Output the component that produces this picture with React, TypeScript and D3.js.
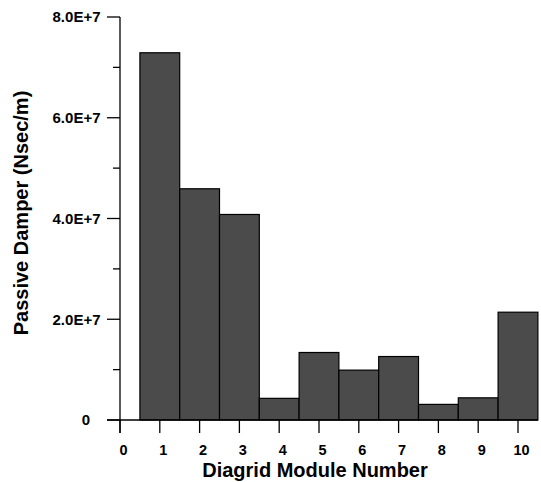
import React from "react";
import * as d3 from "d3";

const modules = [1, 2, 3, 4, 5, 6, 7, 8, 9, 10];
const damperValues = [7.29e7, 4.59e7, 4.08e7, 0.43e7, 1.34e7, 0.99e7, 1.26e7, 0.31e7, 0.44e7, 2.14e7];
const xTicks = [0, 1, 2, 3, 4, 5, 6, 7, 8, 9, 10];
const yMajorTicks = [0, 2e7, 4e7, 6e7, 8e7];
const yMinorTicks = [1e7, 3e7, 5e7, 7e7];
const yTickLabels = ["0", "2.0E+7", "4.0E+7", "6.0E+7", "8.0E+7"];

const W = 541;
const H = 482;
const font = "'Liberation Sans', Arial, Helvetica, sans-serif";

export default function App() {
  const x = d3.scaleLinear().domain([0, 10]).range([120, 518]);
  const y = d3.scaleLinear().domain([0, 8e7]).range([420, 17]);
  const half = (x(1) - x(0)) / 2;

  return (
    <svg width={W} height={H} style={{ position: "absolute", left: 0, top: 0, background: "#fff" }}>
      <g>
        {modules.map((m, i) => (
          <rect
            key={m}
            x={x(m) - half}
            y={y(damperValues[i])}
            width={half * 2}
            height={y(0) - y(damperValues[i])}
            fill="#4b4b4b"
            stroke="#000"
            strokeWidth={1.2}
          />
        ))}
      </g>
      {/* x axis */}
      <line x1={107} x2={x(10.5)} y1={y(0)} y2={y(0)} stroke="#000" strokeWidth={1.3} />
      {xTicks.map((t) => (
        <g key={t}>
          <line x1={x(t)} x2={x(t)} y1={y(0)} y2={y(0) + 13} stroke="#000" strokeWidth={1.3} />
          <text
            x={x(t) + 3.5}
            y={455}
            textAnchor="middle"
            fontFamily={font}
            fontWeight="bold"
            fontSize={14.5}
            fill="#000"
          >
            {t}
          </text>
        </g>
      ))}
      {/* y axis */}
      <line x1={x(0)} x2={x(0)} y1={y(8e7)} y2={y(0) + 13} stroke="#000" strokeWidth={1.3} />
      {yMajorTicks.map((t, i) => (
        <g key={t}>
          <line x1={107} x2={x(0)} y1={y(t)} y2={y(t)} stroke="#000" strokeWidth={1.3} />
          <text
            x={t === 0 ? 90 : 100.5}
            y={y(t)}
            dy="0.36em"
            textAnchor="end"
            fontFamily={font}
            fontWeight="bold"
            fontSize={15}
            fill="#000"
          >
            {yTickLabels[i]}
          </text>
        </g>
      ))}
      {yMinorTicks.map((t) => (
        <line key={t} x1={113} x2={x(0)} y1={y(t)} y2={y(t)} stroke="#000" strokeWidth={1.3} />
      ))}
      {/* titles */}
      <text
        x={315}
        y={476.5}
        textAnchor="middle"
        fontFamily={font}
        fontWeight="bold"
        fontSize={20}
        fill="#000"
      >
        Diagrid Module Number
      </text>
      <text
        transform={`translate(28, 213) rotate(-90)`}
        textAnchor="middle"
        fontFamily={font}
        fontWeight="bold"
        fontSize={20}
        fill="#000"
      >
        Passive Damper (Nsec/m)
      </text>
    </svg>
  );
}
